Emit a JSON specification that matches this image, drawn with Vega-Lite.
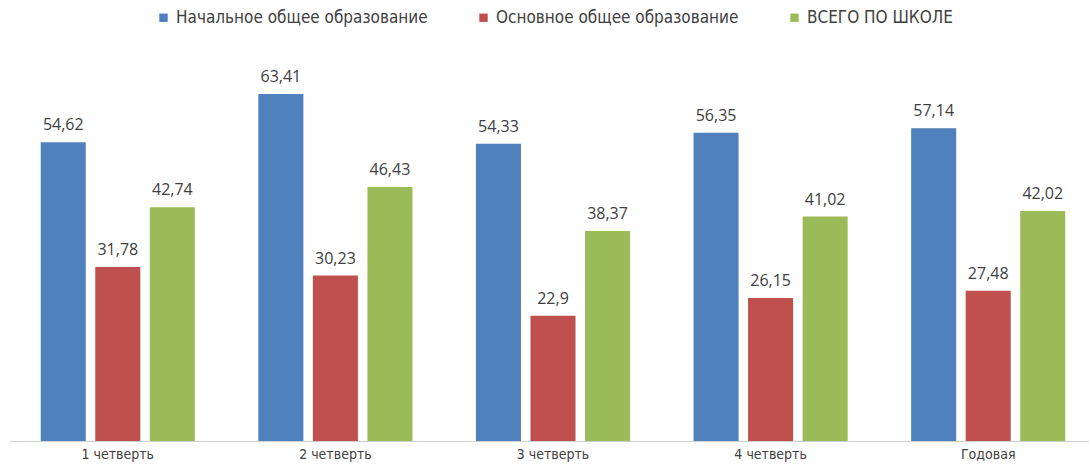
{
  "$schema": "https://vega.github.io/schema/vega-lite/v6.json",
  "width": 1080,
  "height": 383,
  "autosize": {"type": "none"},
  "padding": {"left": 9, "top": 58, "right": 0, "bottom": 25},
  "background": "white",
  "config": {
    "view": {"stroke": null},
    "locale": {"number": {"decimal": ",", "thousands": " ", "grouping": [3], "currency": ["", ""]}}
  },
  "data": {
    "values": [
      {"period": "1 четверть", "series": "Начальное общее образование", "value": 54.62},
      {"period": "1 четверть", "series": "Основное общее образование", "value": 31.78},
      {"period": "1 четверть", "series": "ВСЕГО ПО ШКОЛЕ", "value": 42.74},
      {"period": "2 четверть", "series": "Начальное общее образование", "value": 63.41},
      {"period": "2 четверть", "series": "Основное общее образование", "value": 30.23},
      {"period": "2 четверть", "series": "ВСЕГО ПО ШКОЛЕ", "value": 46.43},
      {"period": "3 четверть", "series": "Начальное общее образование", "value": 54.33},
      {"period": "3 четверть", "series": "Основное общее образование", "value": 22.9},
      {"period": "3 четверть", "series": "ВСЕГО ПО ШКОЛЕ", "value": 38.37},
      {"period": "4 четверть", "series": "Начальное общее образование", "value": 56.35},
      {"period": "4 четверть", "series": "Основное общее образование", "value": 26.15},
      {"period": "4 четверть", "series": "ВСЕГО ПО ШКОЛЕ", "value": 41.02},
      {"period": "Годовая", "series": "Начальное общее образование", "value": 57.14},
      {"period": "Годовая", "series": "Основное общее образование", "value": 27.48},
      {"period": "Годовая", "series": "ВСЕГО ПО ШКОЛЕ", "value": 42.02}
    ]
  },
  "encoding": {
    "x": {
      "field": "period",
      "type": "nominal",
      "sort": null,
      "scale": {"paddingInner": 0, "paddingOuter": 0, "range": [0, 1088]},
      "axis": {
        "title": null,
        "labelAngle": 0,
        "ticks": false,
        "domainColor": "#d0d0d0",
        "labelFont": "DejaVu Sans Condensed",
        "labelFontSize": 14,
        "labelColor": "#404040",
        "labelPadding": 6
      }
    },
    "xOffset": {
      "field": "series",
      "type": "nominal",
      "sort": ["Начальное общее образование", "Основное общее образование", "ВСЕГО ПО ШКОЛЕ"],
      "scale": {"paddingInner": 0.174, "paddingOuter": 0.582}
    },
    "y": {
      "field": "value",
      "type": "quantitative",
      "scale": {"domain": [0, 70], "nice": false},
      "axis": null
    }
  },
  "layer": [
    {
      "mark": {"type": "bar"},
      "encoding": {
        "color": {
          "field": "series",
          "type": "nominal",
          "sort": ["Начальное общее образование", "Основное общее образование", "ВСЕГО ПО ШКОЛЕ"],
          "scale": {
            "domain": ["Начальное общее образование", "Основное общее образование", "ВСЕГО ПО ШКОЛЕ"],
            "range": ["#4f81bd", "#c0504d", "#9bbb59"]
          },
          "legend": {
            "title": null,
            "orient": "none",
            "direction": "horizontal",
            "legendX": 146,
            "legendY": -49,
            "symbolType": "square",
            "symbolSize": 70,
            "symbolStrokeWidth": 0,
            "labelFont": "DejaVu Sans Condensed",
            "labelFontSize": 17,
            "labelLimit": 0,
            "labelColor": "#404040",
            "labelOffset": 4,
            "columnPadding": 47
          }
        }
      }
    },
    {
      "mark": {
        "type": "text",
        "baseline": "alphabetic",
        "dy": -12,
        "font": "Open Sans",
        "fontSize": 16,
        "color": "#404040"
      },
      "encoding": {
        "text": {"field": "value", "type": "quantitative", "format": ".4~r"}
      }
    }
  ]
}
